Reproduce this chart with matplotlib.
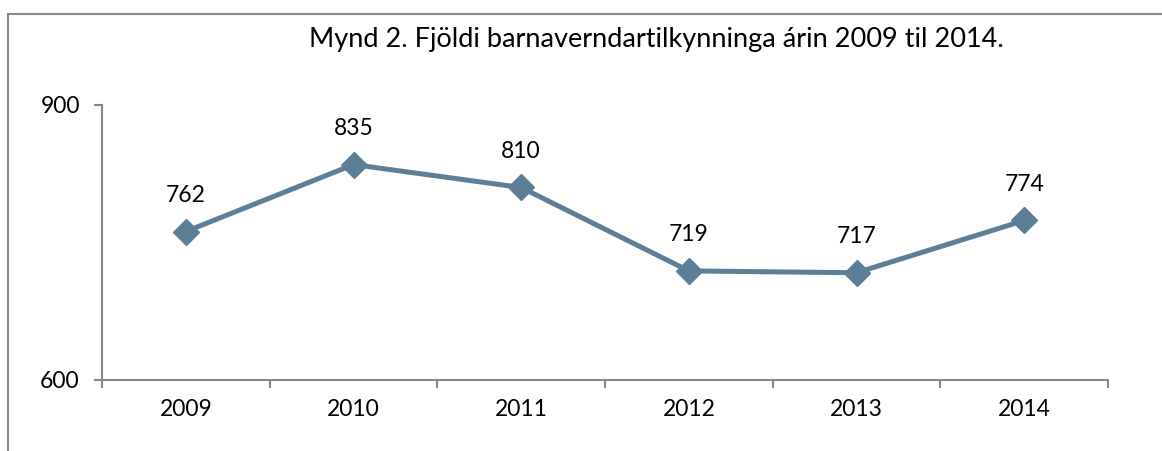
import matplotlib
matplotlib.use("Agg")
import matplotlib.pyplot as plt
from matplotlib.patches import Rectangle

years = ["2009", "2010", "2011", "2012", "2013", "2014"]
values = [762, 835, 810, 719, 717, 774]
y_ticks = [600, 900]
title = "Mynd 2. Fjöldi barnaverndartilkynninga árin 2009 til 2014."

plt.rcParams['font.family'] = ['Lato', 'DejaVu Sans']

W, H = 1162, 451
fig = plt.figure(figsize=(W / 100, H / 100), dpi=100)
fig.patch.set_facecolor("white")

# outer chart border (extends beyond image on right/bottom)
fig.patches.append(Rectangle((8 / W, -0.1), 1.2, 1 - 14 / H + 0.1,
                             transform=fig.transFigure, fill=False,
                             edgecolor="#878787", linewidth=1.5))

ax = fig.add_axes([102 / W, 1 - 380 / H, (1108 - 102) / W, (380 - 105) / H])
x = list(range(len(years)))
line_color = "#5d7e97"
ax.plot(x, values, color=line_color, linewidth=3.6, marker="D",
        markersize=13, markerfacecolor=line_color, markeredgecolor=line_color,
        zorder=3, clip_on=False)
for xi, v in zip(x, values):
    ax.annotate(str(v), (xi, v), xytext=(0, 26), textcoords="offset points",
                ha="center", va="center", fontsize=16.5, color="black")

ax.set_xlim(-0.5, len(years) - 0.5)
ax.set_ylim(600, 900)
ax.set_yticks(y_ticks)
ax.set_yticklabels([str(t) for t in y_ticks], fontsize=16.5)
ax.set_xticks(x)
ax.set_xticklabels(years, fontsize=16.5)
ax.tick_params(axis="x", length=0, pad=14)
ax.set_xticks([i + 0.5 for i in range(-1, len(years))], minor=True)
ax.tick_params(axis="x", which="minor", length=6, width=1.5, color="#888888", direction="out")
ax.tick_params(axis="y", length=6, width=1.5, color="#888888", direction="out", pad=10)

for s in ["top", "right"]:
    ax.spines[s].set_visible(False)
for s in ["left", "bottom"]:
    ax.spines[s].set_color("#888888")
    ax.spines[s].set_linewidth(1.5)

fig.text(656 / W, 1 - 40 / H, title, ha="center", va="center", fontsize=19.5, color="black")

fig.savefig("out.png", dpi=100)
